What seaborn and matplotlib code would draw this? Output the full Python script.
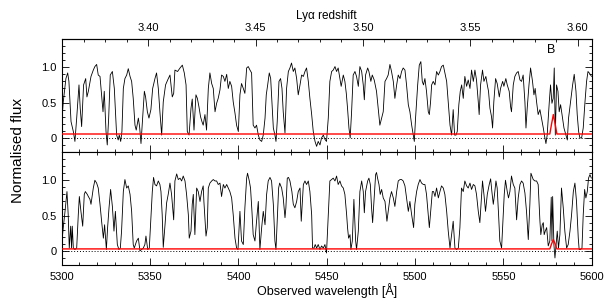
import matplotlib
matplotlib.use("Agg")
import matplotlib.pyplot as plt
import numpy as np
import pandas as pd
import seaborn as sns
from matplotlib.ticker import MultipleLocator, FormatStrFormatter, FixedLocator

sns.set_style("ticks")
plt.rcParams['font.family'] = ['Liberation Sans', 'DejaVu Sans']
plt.rcParams['text.color'] = 'black'
plt.rcParams['axes.labelcolor'] = 'black'
plt.rcParams['xtick.color'] = 'black'
plt.rcParams['ytick.color'] = 'black'

LYA = 1215.67

# ---------------- upper spectrum (panel 1) ----------------
top_wave = [5300.0, 5300.9, 5302.4, 5303.4, 5304.1, 5305.3, 5306.6, 5307.5, 5308.5, 5309.8,
            5310.5, 5311.3, 5312.4, 5313.6, 5314.3, 5315.1, 5316.6, 5317.9, 5318.8, 5319.8,
            5320.7, 5321.7, 5322.6, 5323.4, 5324.1, 5325.1, 5325.8, 5326.6, 5327.5, 5328.7,
            5329.8, 5331.1, 5332.0, 5332.6, 5333.4, 5334.1, 5334.9, 5335.8, 5336.8, 5337.7,
            5338.7, 5339.6, 5340.5, 5341.5, 5342.2, 5343.4, 5344.1, 5344.9, 5345.8, 5346.8,
            5347.5, 5348.5, 5349.4, 5350.5, 5351.5, 5352.8, 5353.7, 5354.7, 5355.6, 5356.6,
            5357.5, 5358.8, 5360.0, 5361.3, 5362.6, 5363.4, 5364.1, 5365.6, 5367.0, 5368.3,
            5369.4, 5370.4, 5371.1, 5372.1, 5373.2, 5373.9, 5374.9, 5376.0, 5376.8, 5377.7,
            5378.6, 5379.4, 5380.1, 5381.1, 5382.0, 5383.0, 5383.9, 5384.9, 5385.8, 5386.8,
            5387.7, 5388.6, 5389.6, 5390.5, 5391.5, 5392.4, 5393.4, 5394.3, 5395.2, 5396.2,
            5397.1, 5398.1, 5399.0, 5400.0, 5400.9, 5401.8, 5402.8, 5403.7, 5404.7, 5405.6,
            5406.6, 5407.5, 5408.4, 5409.4, 5410.3, 5411.3, 5412.2, 5413.2, 5414.1, 5415.1,
            5415.8, 5416.6, 5417.5, 5418.3, 5419.0, 5419.8, 5420.7, 5421.3, 5422.0, 5423.0,
            5423.9, 5424.7, 5425.4, 5426.4, 5427.3, 5428.3, 5429.2, 5430.1, 5431.1, 5432.0,
            5433.0, 5433.9, 5434.9, 5435.8, 5436.8, 5437.7, 5438.6, 5439.6, 5440.5, 5441.5,
            5442.4, 5443.4, 5444.3, 5445.2, 5446.2, 5447.1, 5448.1, 5449.0, 5449.9, 5450.9,
            5451.8, 5452.8, 5453.7, 5454.7, 5455.6, 5456.5, 5457.5, 5458.2, 5459.4, 5460.3,
            5461.1, 5461.8, 5462.6, 5463.3, 5464.1, 5465.0, 5466.0, 5466.9, 5467.9, 5468.8,
            5469.8, 5470.7, 5471.3, 5472.0, 5473.2, 5473.9, 5475.0, 5475.8, 5476.9, 5478.2,
            5479.2, 5480.1, 5481.1, 5482.0, 5483.0, 5483.9, 5484.8, 5485.8, 5486.7, 5487.7,
            5488.6, 5489.6, 5490.5, 5491.5, 5492.4, 5493.3, 5494.3, 5495.2, 5496.2, 5497.1,
            5498.1, 5499.0, 5499.6, 5500.3, 5501.5, 5502.4, 5503.3, 5504.1, 5504.8, 5505.6,
            5506.5, 5507.5, 5508.1, 5508.8, 5509.4, 5510.3, 5511.3, 5512.2, 5513.2, 5514.1,
            5515.0, 5516.0, 5516.9, 5517.9, 5518.8, 5519.8, 5520.7, 5521.6, 5522.4, 5523.2,
            5523.9, 5524.8, 5525.6, 5526.4, 5527.3, 5528.2, 5529.2, 5530.1, 5531.1, 5532.0,
            5533.0, 5533.9, 5534.8, 5535.8, 5536.3, 5537.1, 5538.2, 5539.0, 5540.1, 5540.9,
            5541.6, 5542.4, 5543.3, 5543.9, 5544.6, 5545.6, 5546.5, 5547.7, 5548.4, 5549.6,
            5550.3, 5551.4, 5552.2, 5553.3, 5554.1, 5554.6, 5555.6, 5556.5, 5557.5, 5558.4,
            5559.4, 5560.3, 5561.2, 5562.2, 5562.8, 5563.5, 5564.5, 5565.4, 5566.5, 5567.3,
            5568.0, 5568.8, 5569.7, 5570.7, 5571.6, 5572.6, 5573.5, 5574.1, 5574.8, 5576.0,
            5576.7, 5577.5, 5578.2, 5578.8, 5579.4, 5580.1, 5580.9, 5581.6, 5582.4, 5583.5,
            5584.3, 5585.4, 5586.2, 5586.9, 5588.0, 5589.2, 5590.1, 5591.1, 5591.8, 5592.6,
            5593.3, 5594.3, 5595.2, 5596.2, 5597.1, 5597.9, 5598.6, 5599.9]
top_flux = [0.21, 0.51, 0.84, 0.92, 0.80, 0.23, 0.09, -0.05, 0.28, 0.75,
            0.42, 0.16, 0.75, 0.84, 0.58, 0.66, 0.87, 0.96, 1.01, 1.04,
            0.89, 0.87, 0.61, 0.37, 0.66, 0.09, -0.10, 0.28, 0.89, 0.94,
            0.70, 0.04, -0.03, 0.04, -0.05, 0.09, 0.70, 0.84, 0.89, 0.98,
            0.87, 0.80, 0.56, 0.18, 0.11, 0.28, 0.16, -0.08, 0.28, 0.66,
            0.58, 0.37, 0.28, 0.40, 0.70, 0.84, 0.92, 0.70, 0.37, 0.04,
            0.51, 0.75, 0.82, 0.89, 0.58, 0.63, 0.96, 0.94, 0.99, 1.03,
            0.92, 0.75, 0.09, 0.04, 0.42, 0.55, 0.11, 0.61, 0.56, 0.44,
            0.30, 0.23, 0.18, 0.33, 0.11, 0.70, 0.92, 0.77, 0.70, 0.37,
            0.49, 0.56, 0.68, 0.89, 0.87, 0.80, 0.90, 0.70, 0.80, 0.73,
            0.51, 0.35, 0.18, 0.09, 0.61, 0.77, 0.70, 0.63, 0.99, 1.01,
            0.96, 0.92, 0.18, 0.14, 0.18, 0.04, -0.03, -0.05, 0.04, 0.28,
            0.61, 0.75, 0.92, 0.84, 0.51, 0.14, 0.04, -0.05, 0.23, 0.80,
            0.84, 0.70, 0.37, 0.07, 0.70, 0.94, 0.99, 1.06, 0.94, 0.99,
            0.84, 0.61, 0.75, 0.89, 0.87, 0.94, 0.99, 0.80, 0.56, 0.33,
            0.09, -0.05, -0.12, -0.05, -0.10, 0.00, 0.04, -0.02, -0.05, 0.28,
            0.80, 0.94, 0.96, 1.01, 0.94, 0.99, 0.84, 0.73, 0.89, 0.80,
            0.63, 0.42, 0.14, 0.00, 0.37, 0.89, 0.94, 0.87, 0.73, 1.01,
            0.94, 0.75, 0.54, 0.89, 0.99, 0.94, 0.80, 0.89, 0.82, 0.66,
            0.40, 0.18, 0.28, 0.37, 0.80, 0.84, 0.89, 1.04, 0.94, 0.80,
            0.56, 0.75, 0.89, 0.84, 0.94, 0.99, 0.96, 0.75, 0.47, 0.37,
            0.18, 0.04, -0.05, 0.28, 0.75, 1.03, 1.08, 0.80, 0.75, 0.84,
            0.66, 0.37, 0.33, 0.51, 0.75, 0.80, 0.75, 0.94, 0.89, 0.94,
            1.01, 1.03, 0.92, 0.80, 0.51, 0.18, 0.04, 0.40, 0.04, 0.04,
            0.09, 0.47, 0.66, 0.75, 0.56, 0.87, 0.73, 0.82, 0.70, 0.96,
            0.80, 0.96, 0.82, 0.51, 0.33, 0.75, 0.96, 0.80, 0.87, 0.75,
            0.66, 0.42, 0.30, 0.14, 0.51, 0.84, 0.77, 0.58, 0.70, 0.80,
            0.73, 0.84, 0.75, 0.66, 0.44, 0.37, 0.75, 0.87, 0.92, 0.94,
            0.82, 0.80, 0.89, 0.51, 0.14, 0.42, 0.75, 0.99, 0.80, 0.61,
            0.70, 0.51, 0.33, 0.40, 0.28, 0.14, 0.00, -0.08, 0.04, 0.51,
            0.75, 0.49, 0.56, 0.99, 0.04, 0.75, 0.66, 0.37, 0.47, 0.28,
            0.14, 0.04, -0.03, 0.28, 0.51, 0.75, 0.90, 0.66, 0.33, 0.09,
            0.00, 0.00, 0.14, 0.51, 0.80, 0.94, 0.92, 0.87]

# ---------------- lower spectrum (panel 2) ----------------
bot_wave = [5300.0, 5300.9, 5301.9, 5303.0, 5303.7, 5304.3, 5305.1, 5305.6, 5306.0, 5306.6,
            5307.5, 5308.5, 5309.4, 5310.0, 5310.9, 5311.9, 5312.8, 5313.4, 5314.5, 5315.1,
            5316.0, 5316.6, 5317.9, 5318.8, 5319.8, 5320.7, 5321.7, 5322.6, 5323.6, 5324.3,
            5325.3, 5326.0, 5326.8, 5327.7, 5328.7, 5329.6, 5330.4, 5331.5, 5332.4, 5333.2,
            5333.9, 5334.9, 5335.8, 5336.8, 5337.7, 5338.7, 5339.6, 5340.5, 5341.1, 5342.4,
            5343.4, 5344.3, 5345.3, 5346.2, 5347.1, 5347.7, 5348.7, 5349.6, 5350.5, 5351.3,
            5352.0, 5352.8, 5353.7, 5354.7, 5355.6, 5356.2, 5356.9, 5357.5, 5358.5, 5359.4,
            5360.3, 5361.3, 5362.2, 5363.4, 5364.1, 5365.1, 5366.0, 5367.0, 5367.9, 5368.8,
            5369.8, 5370.7, 5371.7, 5372.2, 5373.2, 5373.9, 5374.5, 5375.4, 5376.4, 5377.3,
            5378.3, 5379.2, 5380.1, 5380.5, 5381.7, 5382.4, 5383.0, 5383.9, 5384.9, 5385.8,
            5386.8, 5387.7, 5388.6, 5389.6, 5390.5, 5391.5, 5392.4, 5393.4, 5394.3, 5395.2,
            5396.2, 5397.1, 5398.1, 5399.0, 5399.8, 5400.9, 5401.8, 5402.8, 5403.7, 5404.7,
            5405.2, 5406.2, 5406.9, 5407.7, 5408.4, 5409.4, 5410.3, 5411.3, 5412.2, 5413.2,
            5414.1, 5415.1, 5416.0, 5416.9, 5417.9, 5418.8, 5419.8, 5420.7, 5421.3, 5422.0,
            5422.8, 5423.4, 5424.5, 5425.4, 5426.4, 5426.9, 5427.7, 5428.4, 5429.2, 5430.3,
            5431.1, 5432.0, 5433.0, 5433.9, 5434.9, 5435.6, 5436.8, 5437.7, 5438.6, 5439.6,
            5440.5, 5441.5, 5442.0, 5442.8, 5443.5, 5444.3, 5445.2, 5446.2, 5447.1, 5448.1,
            5449.0, 5449.9, 5450.9, 5451.8, 5452.8, 5453.7, 5454.7, 5455.6, 5456.5, 5457.5,
            5458.4, 5459.4, 5460.3, 5461.3, 5461.8, 5462.4, 5463.2, 5463.7, 5464.5, 5465.4,
            5466.4, 5466.9, 5467.9, 5468.8, 5469.8, 5470.7, 5471.3, 5472.0, 5473.2, 5473.9,
            5474.7, 5475.4, 5476.0, 5476.9, 5477.7, 5478.2, 5478.8, 5479.6, 5480.3, 5481.1,
            5482.0, 5483.0, 5484.1, 5484.8, 5485.8, 5486.7, 5487.7, 5488.6, 5489.6, 5490.5,
            5491.5, 5492.4, 5493.3, 5494.3, 5495.2, 5496.2, 5497.1, 5498.1, 5499.2, 5499.9,
            5500.9, 5501.8, 5502.8, 5503.7, 5504.7, 5505.6, 5506.5, 5507.5, 5508.1, 5509.0,
            5509.8, 5510.5, 5511.3, 5512.2, 5513.2, 5514.1, 5515.0, 5516.0, 5516.9, 5517.9,
            5518.8, 5519.8, 5520.7, 5521.6, 5522.6, 5523.5, 5524.5, 5525.4, 5526.3, 5527.3,
            5528.2, 5529.2, 5530.1, 5531.1, 5532.0, 5533.0, 5533.9, 5534.8, 5535.8, 5536.7,
            5537.7, 5538.2, 5539.0, 5539.9, 5540.9, 5542.0, 5542.8, 5543.5, 5544.3, 5545.0,
            5545.8, 5546.5, 5547.3, 5548.0, 5549.0, 5549.9, 5550.5, 5551.2, 5552.2, 5552.9,
            5553.7, 5554.6, 5555.6, 5556.5, 5557.5, 5558.4, 5559.4, 5560.3, 5561.2, 5562.2,
            5563.1, 5564.1, 5565.0, 5565.6, 5566.9, 5567.9, 5568.8, 5569.7, 5570.7, 5571.2,
            5572.0, 5572.6, 5573.1, 5573.7, 5574.5, 5575.4, 5576.3, 5577.1, 5577.5, 5577.9,
            5578.6, 5579.2, 5579.7, 5580.5, 5581.2, 5582.0, 5582.9, 5583.9, 5584.8, 5585.8,
            5586.7, 5587.7, 5588.6, 5589.6, 5590.5, 5591.4, 5592.4, 5592.9, 5593.7, 5594.5,
            5595.2, 5596.0, 5596.7, 5597.5, 5598.2, 5599.0, 5599.8]
bot_flux = [0.09, 0.33, 0.56, 0.84, 0.51, 0.04, 0.35, 0.04, 0.35, 0.04,
            0.02, 0.04, 0.51, 0.77, 0.56, 0.35, 0.80, 0.84, 0.80, 0.77,
            0.73, 0.66, 0.89, 1.00, 0.96, 0.89, 0.66, 0.42, 0.18, 0.37,
            0.02, 0.33, 0.61, 0.87, 0.63, 0.28, 0.56, 0.09, 0.02, 0.04,
            0.28, 0.84, 1.01, 0.89, 0.92, 0.80, 0.56, 0.09, 0.04, 0.14,
            0.18, 0.00, 0.02, 0.04, 0.09, 0.21, 0.02, 0.04, 0.47, 0.84,
            1.04, 0.94, 0.92, 0.99, 0.94, 0.84, 0.51, 0.05, 0.37, 0.68,
            0.80, 0.96, 0.80, 0.44, 0.99, 1.09, 1.01, 1.03, 0.99, 1.06,
            0.99, 0.80, 0.51, 0.18, 0.28, 0.66, 0.80, 0.23, 0.89, 0.84,
            0.70, 0.84, 0.92, 0.70, 0.21, 0.33, 0.89, 0.96, 0.99, 1.01,
            0.99, 0.99, 0.94, 0.96, 0.77, 0.94, 0.89, 0.94, 0.89, 0.84,
            0.75, 0.51, 0.18, 0.04, 0.02, 0.56, 0.14, 0.09, 0.61, 1.03,
            1.10, 0.99, 0.89, 0.56, 0.23, 0.14, 0.42, 0.70, 0.02, 0.33,
            0.56, 0.37, 0.80, 0.99, 1.04, 0.99, 0.66, 0.14, 0.02, 0.42,
            0.89, 0.96, 0.89, 0.75, 0.47, 0.61, 1.03, 1.04, 0.99, 0.84,
            0.66, 0.61, 0.70, 0.84, 0.89, 0.42, 0.94, 0.99, 0.94, 0.99,
            0.84, 0.51, 0.04, 0.04, 0.09, 0.04, 0.09, 0.02, 0.07, 0.04,
            0.09, -0.03, 0.51, 0.99, 1.01, 1.03, 0.99, 1.06, 0.94, 0.99,
            0.92, 0.89, 0.80, 0.51, 0.33, 0.18, 0.23, 0.02, 0.14, 0.73,
            0.14, 0.02, 0.28, 0.84, 0.99, 0.84, 0.54, 0.84, 0.99, 1.03,
            0.94, 0.61, 0.40, 0.75, 1.08, 1.11, 1.03, 0.94, 0.80, 0.87,
            0.75, 0.70, 0.42, 0.56, 0.75, 0.84, 0.75, 0.63, 0.84, 0.99,
            1.01, 1.01, 0.99, 0.92, 0.75, 0.56, 0.70, 0.51, 0.33, 0.66,
            0.84, 0.94, 1.01, 0.96, 0.94, 0.94, 0.80, 0.51, 0.33, 0.61,
            0.84, 0.84, 0.77, 0.89, 0.75, 0.84, 0.92, 0.89, 0.80, 0.56,
            0.28, 0.04, 0.23, 0.42, 0.04, 0.02, 0.04, 0.33, 0.89, 0.84,
            0.99, 0.92, 0.89, 0.96, 0.87, 0.94, 0.92, 0.80, 0.56, 0.40,
            0.80, 0.99, 0.80, 0.56, 0.80, 0.94, 1.02, 0.84, 0.66, 0.80,
            0.99, 0.89, 0.51, 0.14, 0.04, 0.51, 0.80, 1.00, 0.84, 0.75,
            0.84, 1.06, 0.94, 0.89, 0.44, 0.75, 0.94, 0.99, 0.96, 0.82,
            0.56, 0.16, 0.66, 1.10, 1.01, 0.99, 0.99, 0.94, 0.42, 0.23,
            0.37, 0.40, 0.23, 0.28, 0.33, 0.07, 0.14, 0.76, 0.14, 0.77,
            0.09, -0.10, 0.04, 0.28, 0.04, 0.23, 0.89, 0.61, 0.28, 0.04,
            0.09, 0.28, 0.51, 0.84, 0.96, 0.70, 0.18, 0.02, 0.02, 0.04,
            0.51, 0.87, 0.75, 0.84, 1.03, 1.08, 1.03]

# ---------------- error spectra (red) ----------------
err_wave = [5300.0, 5400.0, 5500.0, 5576.3, 5577.3, 5578.3, 5579.3, 5580.3, 5600.0]
err_top = [0.055, 0.055, 0.055, 0.055, 0.20, 0.33, 0.20, 0.055, 0.055]
err_bot = [0.028, 0.028, 0.028, 0.028, 0.10, 0.16, 0.10, 0.028, 0.028]

z_ticks = [3.40, 3.45, 3.50, 3.55, 3.60]
y_ticks = [0.0, 0.5, 1.0]
y_tick_labels = ['0', '0.5', '1.0']

panels = [
    pd.DataFrame({'wave': top_wave, 'flux': top_flux}),
    pd.DataFrame({'wave': bot_wave, 'flux': bot_flux}),
]
errs = [
    pd.DataFrame({'wave': err_wave, 'err': err_top}),
    pd.DataFrame({'wave': err_wave, 'err': err_bot}),
]

fig = plt.figure(figsize=(6.1, 3.05), dpi=100)
ax1 = fig.add_axes([0.1011, 0.5016, 0.8689, 0.3705])
ax2 = fig.add_axes([0.1011, 0.1311, 0.8689, 0.3705])

for ax, spec, err in zip([ax1, ax2], panels, errs):
    ax.axhline(0, color='black', lw=0.7, ls=(0, (1, 2)), zorder=1)
    sns.lineplot(data=spec, x='wave', y='flux', ax=ax, color='black', lw=0.6,
                 estimator=None, sort=False, zorder=2)
    sns.lineplot(data=err, x='wave', y='err', ax=ax, color='red', lw=1.0,
                 estimator=None, sort=False, zorder=3)
    ax.set_xlim(5300, 5600)
    ax.set_ylim(-0.2, 1.4)
    ax.set_yticks(y_ticks)
    ax.set_yticklabels(y_tick_labels)
    ax.yaxis.set_minor_locator(MultipleLocator(0.1))
    ax.xaxis.set_major_locator(MultipleLocator(50))
    ax.xaxis.set_minor_locator(MultipleLocator(10))
    ax.xaxis.set_major_formatter(FormatStrFormatter('%d'))
    ax.set_xlabel('')
    ax.set_ylabel('')
    for s in ax.spines.values():
        s.set_linewidth(0.8)
        s.set_visible(True)
        s.set_color('black')
    ax.tick_params(which='both', direction='in', right=True, top=True,
                   width=0.6, labelsize=8, colors='black')
    ax.tick_params(which='major', length=5)
    ax.tick_params(which='minor', length=2.5)

ax1.tick_params(which='both', top=False, labelbottom=False)
ax2.tick_params(axis='x', pad=5)

sec = ax1.secondary_xaxis('top', functions=(lambda w: w / LYA - 1.0,
                                            lambda z: (z + 1.0) * LYA))
sec.xaxis.set_major_locator(FixedLocator(z_ticks))
sec.xaxis.set_minor_locator(MultipleLocator(0.01))
sec.xaxis.set_major_formatter(FormatStrFormatter('%.2f'))
sec.tick_params(which='both', direction='in', width=0.6, labelsize=8, pad=4,
                colors='black')
sec.tick_params(which='major', length=5)
sec.tick_params(which='minor', length=2.5)
sec.spines['top'].set_linewidth(0.8)
sec.spines['top'].set_color('black')
sec.set_xlabel('Ly\u03b1 redshift', fontsize=8.5, labelpad=3, color='black')

ax1.text(5577, 1.25, 'B', fontsize=9, ha='center', va='center', color='black')
ax2.set_xlabel('Observed wavelength [\u00c5]', fontsize=9, labelpad=1, color='black')
fig.text(0.03, 0.508, 'Normalised flux', rotation=90, ha='center', va='center',
         fontsize=11, color='black')

fig.savefig('out.png', dpi=100)
